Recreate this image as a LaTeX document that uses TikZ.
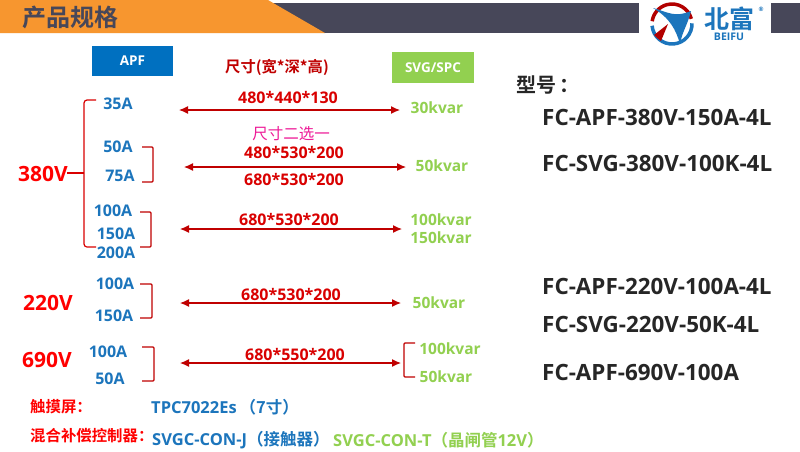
\documentclass[tikz,border=0pt]{standalone}
\usepackage{fontspec}
\setmainfont{Open Sans}[BoldFont={Open Sans Bold}]
\newfontfamily\cjk{Noto Sans CJK SC}[BoldFont={Noto Sans CJK SC Bold}]
\usetikzlibrary{arrows.meta}
\definecolor{laranja}{HTML}{F7962F}
\definecolor{faixa}{HTML}{474759}
\definecolor{azul}{HTML}{1C75BC}
\definecolor{azulbox}{HTML}{0070C0}
\definecolor{verde}{HTML}{92D050}
\definecolor{vinho}{HTML}{C00000}
\tikzset{
	texto/.style={inner sep=0pt, font=\bfseries\fontsize{#1}{#1}\selectfont},
	texto/.default=16,
	amp/.style={texto, text=azul},
	kvar/.style={texto=15.5, text=verde},
	dim/.style={texto, text=red!85!black},
	volt/.style={texto=21, text=red},
	modelo/.style={texto=22.4, text=black!85},
	chave/.style={vinho, line width=1.2pt, rounded corners=1pt},
	seta/.style={vinho, line width=1.2pt, {Latex[length=9pt,width=8pt]}-{Latex[length=9pt,width=8pt]}}
}
\begin{document}
\begin{tikzpicture}[x=1pt,y=-1pt]
	\useasboundingbox (0,0) rectangle (800,451);
	\fill[white] (0,0) rectangle (800,451);
	% Faixa do topo
	\fill[faixa] (270,3) rectangle (639,33);
	\fill[faixa] (771,3) rectangle (800,33);
	\fill[laranja] (0,0) -- (268,0) -- (325,33) -- (0,33) -- cycle;
	\node[texto=24, text=faixa] (titulo) at (70,17) {\cjk 产品规格};
	% Logotipo
	\draw[azul, line width=3.5pt] ([shift={(185:20pt)}]672,24) arc[start angle=185, end angle=362, radius=20pt];
	\draw[red!70!black, line width=3.5pt] ([shift={(15:20pt)}]672,24) arc[start angle=15, end angle=172, radius=20pt];
	\fill[red!70!black] (654,35) -- (668,24) -- (661,41) -- (657,38) -- cycle;
	\fill[azul] (653,8) .. controls (668,12) and (674,18) .. (691,11) .. controls (688,24) and (682,32) .. (680,44) .. controls (676,30) and (670,18) .. (653,8) -- cycle;
	\node[texto=25, text=azul] (logoa) at (729,19) {\cjk 北富};
	\node[texto=10.5, text=azul] (logob) at (729,37) {BEIFU};
	\node[texto=6, text=azul] (logoc) at (761,9) {®};
	% Cabecalho
	\node[fill=azulbox, minimum width=81pt, minimum height=30pt, texto=13.5, text=white] (apf) at (132.5,61) {APF};
	\node[fill=verde, minimum width=82pt, minimum height=31pt, texto=13.5, text=white] (svg) at (433,67.5) {SVG/SPC};
	\node[texto=15.3, text=vinho] (dimtit) at (277,67) {\cjk 尺寸(宽*深*高)};
	% Correntes
	\foreach \nome/\x/\y/\txt in {a/118/104/35A, b/118/147/50A, c/120/176/75A, d/113/211/100A, e/116/234/150A, f/116/253/200A, g/115/284/100A, h/114/316/150A, i/108/352/100A, j/110/379/50A}{
		\node[amp] (amp\nome) at (\x,\y) {\txt};
	}
	% Tensoes
	\node[volt] (v380) at (43,174) {380V};
	\node[volt] (v220) at (48,303) {220V};
	\node[volt] (v690) at (47,360) {690V};
	% Chaves
	\coordinate (ca) at (96,100);
	\coordinate (cb) at (84,100);
	\coordinate (cc) at (84,247);
	\coordinate (cd) at (96,247);
	\coordinate (ce) at (67,173);
	\coordinate (cf) at (84,173);
	\draw[red!85!black, line width=1.2pt, rounded corners=3pt] (ca) -- (cb) -- (cc) -- (cd);
	\draw[red!85!black, line width=1.2pt] (ce) -- (cf);
	\foreach \xa/\xb/\ya/\yb in {142/153/147/182, 140/151/212/247, 140/152/284/318, 142/154/347/381}{
		\draw[chave] (\xa,\ya) -- (\xb,\ya) -- (\xb,\yb) -- (\xa,\yb);
	}
	\draw[chave] (415,343) -- (404,343) -- (404,377) -- (415,377);
	% Setas
	\foreach \nome/\xa/\xb/\y in {a/179/400/110, b/184/406/167, c/180/402/229, d/180/401/303, e/180/401/363}{
		\coordinate (sa\nome) at (\xa,\y);
		\coordinate (sb\nome) at (\xb,\y);
		\draw[seta] (sa\nome) -- (sb\nome);
	}
	% Dimensoes
	\foreach \nome/\x/\y/\txt in {a/288/97/480*440*130, b/294/152/480*530*200, c/294/179/680*530*200, d/289/219/680*530*200, e/291/294/680*530*200, f/295/354/680*550*200}{
		\node[dim] (dim\nome) at (\x,\y) {\txt};
	}
	\node[inner sep=0pt, text=magenta!90!white, font=\cjk\fontsize{15.5}{15.5}\selectfont] (escolha) at (291,134) {尺寸二选一};
	% Potencias
	\foreach \nome/\x/\y/\txt in {a/437/108/30kvar, b/442/166/50kvar, c/441/220/100kvar, d/441/238/150kvar, e/439/303/50kvar, f/450/349/100kvar, g/446/377/50kvar}{
		\node[kvar] (kvar\nome) at (\x,\y) {\txt};
	}
	% Modelos
	\node[texto=20, text=black!85, anchor=west] (modtit) at (516,85) {\cjk 型号\,：};
	\foreach \nome/\y/\txt in {a/117/FC-APF-380V-150A-4L, b/163/FC-SVG-380V-100K-4L, c/286/FC-APF-220V-100A-4L, d/324/FC-SVG-220V-50K-4L, e/372/FC-APF-690V-100A}{
		\node[modelo, anchor=west] (mod\nome) at (542,\y) {\txt};
	}
	% Rodape
	\node[texto=15.4, text=red, anchor=west] (tela) at (30,407) {\cjk 触摸屏：};
	\node[texto=16.5, text=azul, anchor=west] (telamod) at (151,407) {TPC7022Es\hspace{3pt}{\cjk（7寸）}};
	\node[texto=15.4, text=red, anchor=west] (ctrl) at (30,436) {\cjk 混合补偿控制器：};
	\node[texto=16.5, text=azul, anchor=west] (ctrlj) at (152,440) {SVGC-CON-J{\cjk（接触器）}};
	\node[texto=16.5, text=verde, anchor=west] (ctrlt) at (333,440) {SVGC-CON-T{\cjk（晶闸管}12V{\cjk）}};
\end{tikzpicture}
\end{document}
